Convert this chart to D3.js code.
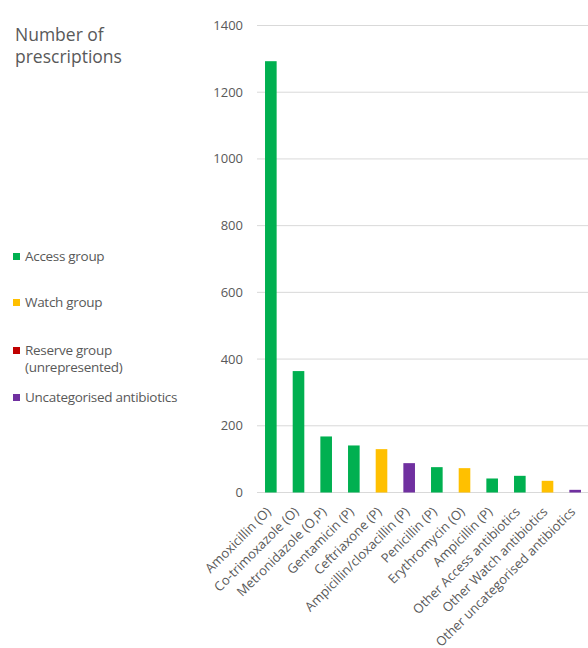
<!DOCTYPE html>
<html>
<head>
<meta charset="utf-8">
<script src="https://cdn.jsdelivr.net/npm/d3@7"></script>
<style>
  body { margin: 0; background: #fff; }
  svg { display: block; font-family: "Open Sans", sans-serif; }
</style>
</head>
<body>
<svg id="chart" width="588" height="648"></svg>
<script>
// NOTE: chart data
const categories = [
  'Amoxicillin (O)', 'Co-trimoxazole (O)', 'Metronidazole (O,P)', 'Gentamicin (P)',
  'Ceftriaxone (P)', 'Ampicillin/cloxacillin (P)', 'Penicillin (P)', 'Erythromycin (O)',
  'Ampicillin (P)', 'Other Access antibiotics', 'Other Watch antibiotics',
  'Other uncategorised antibiotics',
]
const values = [1293, 364, 168, 141, 130, 88, 76, 73, 42, 50, 35, 8]
const groups = ['access', 'access', 'access', 'access', 'watch', 'uncat', 'access', 'watch',
  'access', 'access', 'watch', 'uncat']
const yTicks = [0, 200, 400, 600, 800, 1000, 1200, 1400]
const legendKeys = ['access', 'watch', 'reserve', 'uncat']
const legendLabels = [['Access group'], ['Watch group'], ['Reserve group', '(unrepresented)'],
  ['Uncategorised antibiotics']]

const colors = { access: '#00b050', watch: '#ffc000', reserve: '#c00000', uncat: '#7030a0' }
const textColor = '#595959'

const svg = d3.select('#chart')

// NOTE: scales
const x = d3.scaleBand().domain(categories).range([257, 589]).paddingInner(0.58).paddingOuter(0.29)
const y = d3.scaleLinear().domain([0, 1400]).range([492.5, 25.5])

// NOTE: gridlines
svg.append('g')
  .selectAll('line')
  .data(yTicks)
  .join('line')
  .attr('x1', 257)
  .attr('x2', 588)
  .attr('y1', d => y(d))
  .attr('y2', d => y(d))
  .attr('stroke', '#d9d9d9')
  .attr('stroke-width', 1)

// NOTE: y tick labels
svg.append('g')
  .selectAll('text')
  .data(yTicks)
  .join('text')
  .attr('x', 243)
  .attr('y', d => y(d))
  .attr('dy', '0.35em')
  .attr('text-anchor', 'end')
  .attr('font-size', 13)
  .attr('fill', textColor)
  .text(d => d)

// NOTE: bars
svg.append('g')
  .selectAll('rect')
  .data(categories)
  .join('rect')
  .attr('x', d => x(d))
  .attr('width', x.bandwidth())
  .attr('y', (d, i) => y(values[i]))
  .attr('height', (d, i) => y(0) - y(values[i]))
  .attr('fill', (d, i) => colors[groups[i]])

// NOTE: rotated category labels
svg.append('g')
  .selectAll('text')
  .data(categories)
  .join('text')
  .attr('transform', d => `translate(${x(d) + x.bandwidth() / 2 + 1},${y(0) + 20}) rotate(-45)`)
  .attr('text-anchor', 'end')
  .attr('font-size', 13)
  .attr('fill', textColor)
  .text(d => d)

// NOTE: axis title
svg.append('text')
  .attr('font-size', 17.5)
  .attr('fill', textColor)
  .selectAll('tspan')
  .data(['Number of', 'prescriptions'])
  .join('tspan')
  .attr('x', 15)
  .attr('y', (d, i) => 41 + i * 22)
  .text(d => d)

// NOTE: legend
const legendY = [256, 302, 350, 397]
const legend = svg.append('g')
  .selectAll('g')
  .data(legendKeys)
  .join('g')
  .attr('transform', (d, i) => `translate(13,${legendY[i]})`)

legend.append('rect')
  .attr('x', 0)
  .attr('y', -3)
  .attr('width', 7)
  .attr('height', 7)
  .attr('fill', d => colors[d])

legend.append('text')
  .attr('font-size', 13.5)
  .attr('fill', textColor)
  .attr('letter-spacing', -0.3)
  .selectAll('tspan')
  .data((d, i) => legendLabels[i])
  .join('tspan')
  .attr('x', 12)
  .attr('y', (d, i) => i * 17)
  .attr('dy', '0.35em')
  .text(d => d)
</script>
</body>
</html>
